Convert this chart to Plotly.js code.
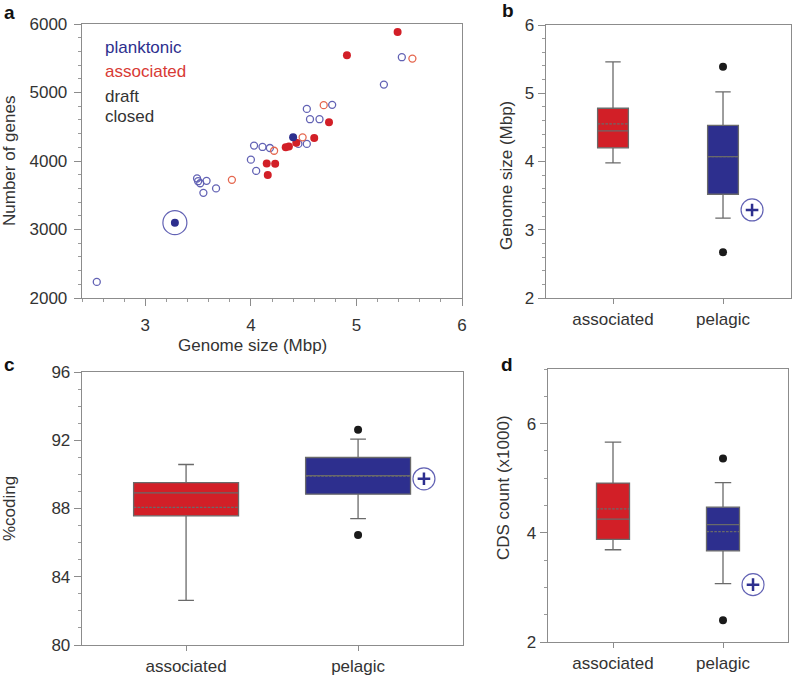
<!DOCTYPE html>
<html>
<head>
<meta charset="utf-8">
<script src="https://cdn.plot.ly/plotly-3.0.1.min.js"></script>
<style>
  html, body { margin: 0; padding: 0; background: #fff; }
  #plot { width: 792px; height: 677px; }
</style>
</head>
<body>
<div id="plot"></div>
<script>
// --- panel a: genome size vs number of genes
const plankDraftX = [2.54, 3.49, 3.50, 3.52, 3.58, 3.55, 3.67, 4.00, 4.03, 4.05, 4.11, 4.18, 4.45, 4.53, 4.53, 4.56, 4.65, 4.77, 5.26, 5.43];
const plankDraftY = [2235, 3745, 3705, 3675, 3710, 3535, 3600, 4020, 4225, 3855, 4205, 4190, 4250, 4250, 4760, 4610, 4610, 4820, 5115, 5515];
const plankClosedX = [4.40, 3.28];
const plankClosedY = [4345, 3100];
const assocDraftX = [3.82, 4.22, 4.49, 4.69, 5.53];
const assocDraftY = [3725, 4150, 4345, 4815, 5495];
const assocClosedX = [5.39, 4.91, 4.74, 4.60, 4.43, 4.33, 4.36, 4.15, 4.23, 4.16];
const assocClosedY = [5885, 5545, 4565, 4335, 4265, 4200, 4210, 3965, 3960, 3795];
const highlightA = [3.28, 3100];

// --- box panels: [associated, pelagic]
const groups = ['associated', 'pelagic'];
// b: genome size (Mbp)
const sizeQ1 = [4.20, 3.52], sizeMed = [4.45, 4.07], sizeQ3 = [4.78, 4.53];
const sizeLo = [3.98, 3.17], sizeHi = [5.46, 5.02], sizeMean = [4.55, 4.07];
const sizeOut = [5.39, 2.67];
const sizePlus = 3.29;
// c: %coding
const codQ1 = [87.57, 88.84], codMed = [88.92, 89.93], codQ3 = [89.52, 90.99];
const codLo = [82.61, 87.41], codHi = [90.58, 92.07], codMean = [88.07, 89.9];
const codOut = [92.61, 86.45];
const codPlus = 89.74;
// d: CDS count (x1000)
const cdsQ1 = [3.88, 3.67], cdsMed = [4.25, 4.15], cdsQ3 = [4.91, 4.47];
const cdsLo = [3.69, 3.07], cdsHi = [5.66, 4.92], cdsMean = [4.44, 4.02];
const cdsOut = [5.36, 2.40];
const cdsPlus = 3.05;

const RED = '#d21f27', BLUE = '#2d2f8e', RED_LT = '#e5674f', BLUE_LT = '#6262b4';
const FONT = 'Liberation Sans, Arial, sans-serif';

function pts(x, y, ax, marker) {
  return { x: x, y: y, xaxis: ax[0], yaxis: ax[1], mode: 'markers', type: 'scatter',
           marker: marker, hoverinfo: 'skip', showlegend: false };
}

const traces = [
  pts(plankDraftX, plankDraftY, ['x', 'y'], { symbol: 'circle-open', size: 7, line: { color: BLUE_LT, width: 1.3 }, color: BLUE_LT }),
  pts(assocDraftX, assocDraftY, ['x', 'y'], { symbol: 'circle-open', size: 7, line: { color: RED_LT, width: 1.3 }, color: RED_LT }),
  pts(assocClosedX, assocClosedY, ['x', 'y'], { symbol: 'circle', size: 8, color: RED }),
  pts(plankClosedX, plankClosedY, ['x', 'y'], { symbol: 'circle', size: 8, color: BLUE }),
  pts([highlightA[0]], [highlightA[1]], ['x', 'y'], { symbol: 'circle-open', size: 24, line: { color: BLUE_LT, width: 1.2 }, color: BLUE_LT })
];

// box panels
const boxPanels = [
  { ax: ['x2', 'y2'], q1: sizeQ1, med: sizeMed, q3: sizeQ3, lo: sizeLo, hi: sizeHi, mean: sizeMean, out: sizeOut, plus: [1.264, sizePlus], w: 0.28, ww: 0.5 },
  { ax: ['x3', 'y3'], q1: codQ1, med: codMed, q3: codQ3, lo: codLo, hi: codHi, mean: codMean, out: codOut, plus: [1.383, codPlus], w: 0.61, ww: 0.15 },
  { ax: ['x4', 'y4'], q1: cdsQ1, med: cdsMed, q3: cdsQ3, lo: cdsLo, hi: cdsHi, mean: cdsMean, out: cdsOut, plus: [1.273, cdsPlus], w: 0.3, ww: 0.5 }
];

boxPanels.forEach(p => {
  [0, 1].forEach(i => {
    traces.push({
      type: 'box', x: [i], xaxis: p.ax[0], yaxis: p.ax[1],
      q1: [p.q1[i]], median: [p.med[i]], q3: [p.q3[i]],
      lowerfence: [p.lo[i]], upperfence: [p.hi[i]], mean: [p.mean[i]],
      boxmean: true, boxpoints: false, width: p.w, whiskerwidth: p.ww,
      fillcolor: i === 0 ? RED : BLUE,
      line: { color: '#6a6a6a', width: 1.3 },
      hoverinfo: 'skip', showlegend: false
    });
  });
  traces.push(pts([1, 1], p.out, p.ax, { symbol: 'circle', size: 8, color: '#1a1a1a' }));
  traces.push(pts([p.plus[0]], [p.plus[1]], p.ax, { symbol: 'circle-open', size: 22, line: { color: BLUE_LT, width: 1.2 }, color: BLUE_LT }));
  traces.push(pts([p.plus[0]], [p.plus[1]], p.ax, { symbol: 'cross-thin-open', size: 9, line: { color: BLUE, width: 2.5 }, color: BLUE }));
});

function yax(domain, range, dtick, minor) {
  return {
    domain: domain, range: range, dtick: dtick, tick0: range[0],
    showgrid: false, zeroline: false, showline: true, mirror: true,
    linecolor: '#8c8c8c', linewidth: 1.3, ticks: 'outside', ticklen: 7, tickcolor: '#8c8c8c',
    tickfont: { size: 17, color: '#333', family: FONT },
    minor: { dtick: minor, ticks: 'outside', ticklen: 3, tickcolor: '#9a9a9a' }
  };
}
function catax(domain, range) {
  return {
    domain: domain, range: range, tickvals: [0, 1], ticktext: groups,
    showgrid: false, zeroline: false, showline: true, mirror: true,
    linecolor: '#8c8c8c', linewidth: 1.3, ticks: 'outside', ticklen: 5, tickcolor: '#8c8c8c',
    tickfont: { size: 17, color: '#333', family: FONT }
  };
}

const H = 677, W = 792;
const fy = (top, bot) => [(H - bot) / H, (H - top) / H];
const fx = (l, r) => [l / W, r / W];

const xA = yax(fx(82, 462), [2.4, 6], 1, 0.2);
xA.tick0 = 3;
xA.ticklabelstandoff = 4;

const layout = {
  width: W, height: H,
  margin: { l: 0, r: 0, t: 0, b: 0 },
  paper_bgcolor: '#fff', plot_bgcolor: '#fff',
  font: { family: FONT, color: '#333' },
  xaxis: xA,
  yaxis: Object.assign(yax(fy(24, 298), [2000, 6000], 1000, 200), { ticklabelstandoff: 3 }),
  xaxis2: catax(fx(546, 791), [-0.609, 1.618]),
  yaxis2: yax(fy(25, 298), [2, 6], 1, 0.2),
  xaxis3: catax(fx(82, 463), [-0.605, 1.61]),
  yaxis3: yax(fy(372, 645), [80, 96], 4, 1),
  xaxis4: catax(fx(548, 788), [-0.591, 1.591]),
  yaxis4: yax(fy(369, 642), [2, 7], 2, 0.5),
  annotations: []
};
layout.xaxis2.anchor = 'y2'; layout.yaxis2.anchor = 'x2';
layout.xaxis3.anchor = 'y3'; layout.yaxis3.anchor = 'x3';
layout.xaxis4.anchor = 'y4'; layout.yaxis4.anchor = 'x4';

function note(text, x, y, opts) {
  layout.annotations.push(Object.assign({
    text: text, xref: 'paper', yref: 'paper', x: x / W, y: (H - y) / H,
    showarrow: false, xanchor: 'center', yanchor: 'middle',
    font: { size: 17, color: '#333', family: FONT }
  }, opts || {}));
}

// panel letters
[['a', 9, 12], ['b', 508, 10], ['c', 9, 364], ['d', 507, 364]].forEach(l =>
  note('<b>' + l[0] + '</b>', l[1], l[2], { font: { size: 19, color: '#111', family: FONT } }));

// axis titles
note('Number of genes', 9, 161, { textangle: -90 });
note('Genome size (Mbp)', 252, 345);
note('Genome size (Mbp)', 507, 176, { textangle: -90 });
note('%coding', 9, 509, { textangle: -90 });
note('CDS count (x1000)', 503, 487, { textangle: -90 });

// in-plot key for panel a
const keyLabels = ['planktonic', 'associated', 'draft', 'closed'];
const keyColors = [BLUE, '#d83a35', '#333', '#333'];
const keyY = [48, 71, 96, 117];
keyLabels.forEach((t, i) => note(t, 103, keyY[i], { xanchor: 'left', font: { size: 17, color: keyColors[i], family: FONT } }));

Plotly.newPlot('plot', traces, layout, { staticPlot: true });
</script>
</body>
</html>
